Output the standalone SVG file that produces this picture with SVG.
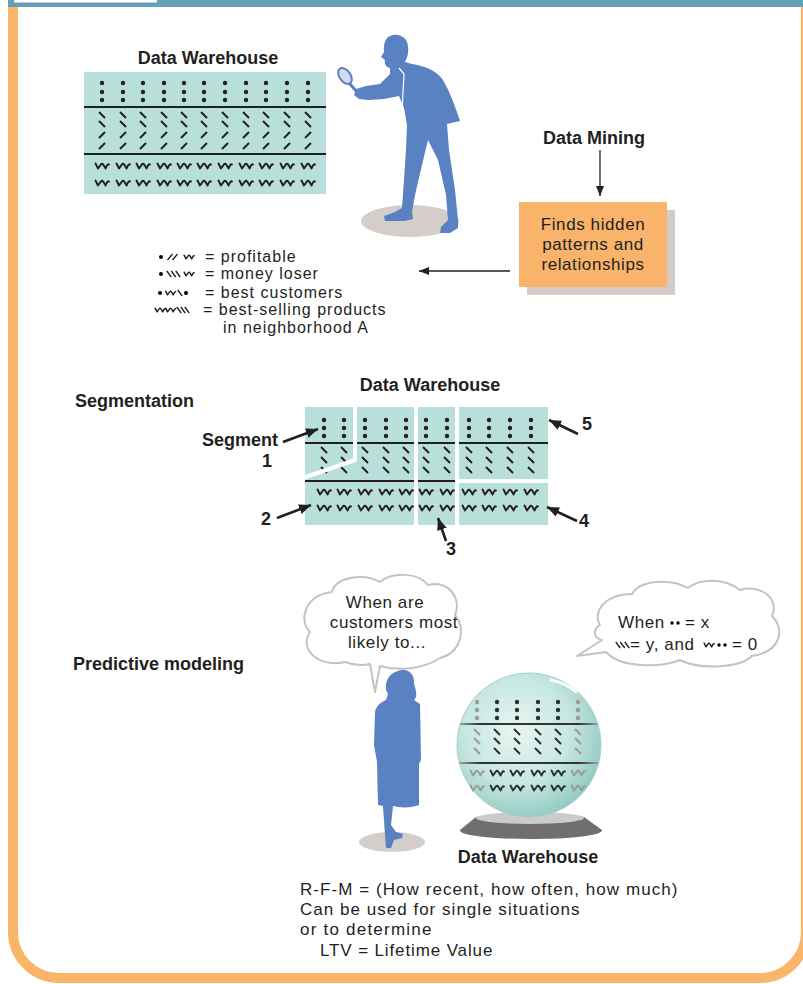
<svg xmlns="http://www.w3.org/2000/svg" width="803" height="984" viewBox="0 0 803 984">
<defs>
<style>
.t{font-family:"Liberation Sans",Arial,Helvetica,sans-serif;font-size:17px;fill:#231f20;letter-spacing:0.6px}
.lg{font-family:"Liberation Sans",Arial,Helvetica,sans-serif;font-size:16px;fill:#231f20;letter-spacing:1px}
.b{font-family:"Liberation Sans",Arial,Helvetica,sans-serif;font-size:18px;font-weight:bold;fill:#231f20}
.panel{fill:#b8dfd9}
.rule{stroke:#231f20;stroke-width:2.2}
.gap{stroke:#fff;stroke-width:4;fill:none}
.fig{fill:#5a81c1}
.shadow{fill:#d5cdc9}
.bubble{fill:#fff;stroke:#c9c1bb;stroke-width:2;stroke-linejoin:round}
.conn{stroke:#231f20;fill:none}
</style>
<!-- small record glyphs used inside the warehouse tables -->
<path id="sq" d="M-6.5,-2.5 L-4,2.5 L-1.2,-1.4 Q0,-3.2 1.2,-1.4 L3.6,2.5 Q5.6,-2.6 7,-1.6" fill="none" stroke="currentColor" stroke-width="1.9" stroke-linejoin="round" stroke-linecap="round"/>
<path id="bs" d="M-3,-3 L3,3" stroke="currentColor" stroke-width="2"/>
<path id="fs" d="M-3,3 L3,-3" stroke="currentColor" stroke-width="2"/>
<circle id="dt" r="2.2" fill="currentColor"/>
<path id="tbs" d="M-2.2,-3 L2.2,3" stroke="currentColor" stroke-width="1.3"/>
<path id="tfs" d="M-2.5,3 L2.5,-3" stroke="currentColor" stroke-width="1.3"/>

<g id="colTop">
<use href="#dt" y="83"/><use href="#dt" y="92"/><use href="#dt" y="100"/>
<use href="#bs" y="115"/><use href="#bs" y="124"/><use href="#fs" y="135"/><use href="#fs" y="146"/>
<use href="#sq" y="166"/><use href="#sq" y="183"/>
</g>
<g id="colSeg">
<use href="#dt" y="420"/><use href="#dt" y="428"/><use href="#dt" y="436"/>
<use href="#bs" y="450"/><use href="#bs" y="460"/><use href="#bs" y="470"/>
<use href="#sq" y="492"/><use href="#sq" y="508"/>
</g>
<g id="colBall">
<use href="#dt" y="702"/><use href="#dt" y="710"/><use href="#dt" y="718"/>
<use href="#bs" y="732"/><use href="#bs" y="741"/><use href="#bs" y="751"/>
<use href="#sq" y="773"/><use href="#sq" y="788"/>
</g>

<radialGradient id="ballFill" cx="0.42" cy="0.4" r="0.62">
<stop offset="0" stop-color="#e8f5f2"/>
<stop offset="0.6" stop-color="#c6e7e1"/>
<stop offset="1" stop-color="#94cbc2"/>
</radialGradient>
<linearGradient id="ballLine" gradientUnits="userSpaceOnUse" x1="458" y1="0" x2="600" y2="0">
<stop offset="0" stop-color="#aaa"/>
<stop offset="0.15" stop-color="#333"/>
<stop offset="0.85" stop-color="#333"/>
<stop offset="1" stop-color="#aaa"/>
</linearGradient>
<clipPath id="ballClip"><circle cx="529" cy="745" r="72"/></clipPath>

<marker id="ah" markerUnits="userSpaceOnUse" markerWidth="12" markerHeight="10" refX="10" refY="4" orient="auto">
<path d="M0,0 L10,4 L0,8 Z" fill="#231f20"/>
</marker>
<marker id="ahb" markerUnits="userSpaceOnUse" markerWidth="14" markerHeight="12" refX="12" refY="5" orient="auto">
<path d="M0,0 L12,5 L0,10 Z" fill="#231f20"/>
</marker>
</defs>

<rect width="803" height="984" fill="#fff"/>

<!-- page frame -->
<g id="frame">
<rect x="13" y="-60" width="793" height="1038" rx="46" fill="none" stroke="#fbb56b" stroke-width="10"/>
<rect x="8" y="0" width="795" height="7" fill="#659eb7"/>
<rect x="14" y="0" width="143" height="2.5" fill="#fff"/>
</g>

<!-- data warehouse table (top) -->
<g id="warehouse-top">
<text class="b" x="208" y="64" text-anchor="middle">Data Warehouse</text>
<rect class="panel" x="84" y="72" width="242" height="122"/>
<line class="rule" x1="84" y1="107" x2="326" y2="107"/>
<line class="rule" x1="84" y1="154" x2="326" y2="154"/>
<g color="#231f20">
<use href="#colTop" x="102"/><use href="#colTop" x="123"/><use href="#colTop" x="143"/>
<use href="#colTop" x="164"/><use href="#colTop" x="184"/><use href="#colTop" x="204"/>
<use href="#colTop" x="225"/><use href="#colTop" x="246"/><use href="#colTop" x="266"/>
<use href="#colTop" x="287"/><use href="#colTop" x="308"/>
</g>
</g>

<!-- analyst with magnifying glass -->
<g id="analyst">
<ellipse class="shadow" cx="410" cy="221" rx="49" ry="16"/>
<path class="fig" d="M393,35 C401,34 408,39 408,47 C409,53 407,58 405,62 L412,64 C424,66 436,70 443,80 C450,92 455,106 460,121 L447,124 L449,150 L455,190 L458,220 L458,228 L450,233 L440,233 L441,227 L448,220 L446,195 L438,160 L428,140 L422,165 L415,195 L412,212 L413,219 L405,221 L385,221 L384,216 L395,212 L402,208 L404,180 L406,150 L407,125 L404,108 L399,96 L384,99 L368,100 L359,99 L354,95 L356,89 L366,86 L380,84 L390,74 L390,68 C386,67 384,64 385,60 L381,57 L384,52 C383,43 386,36 393,35 Z"/>
<path d="M399,68 L404,74 L402,112" fill="none" stroke="#fff" stroke-width="1.2"/>
<line x1="350" y1="84" x2="357" y2="92" stroke="#5a81c1" stroke-width="3" stroke-linecap="round"/>
<ellipse cx="345" cy="76" rx="5.5" ry="9" transform="rotate(-35 345 76)" fill="#d3dbf2" stroke="#5a81c1" stroke-width="2"/>
</g>

<!-- data mining label and result box -->
<g id="data-mining">
<text class="b" x="594" y="144" text-anchor="middle">Data Mining</text>
</g>
<g id="finds-box">
<rect x="527" y="210" width="148" height="85" fill="#d4ccc8"/>
<rect x="519" y="202" width="148" height="85" fill="#f9b36b"/>
<text class="t" x="593" y="230" text-anchor="middle">Finds hidden</text>
<text class="t" x="593" y="250" text-anchor="middle">patterns and</text>
<text class="t" x="593" y="270" text-anchor="middle">relationships</text>
</g>

<!-- legend of record patterns -->
<g id="legend" color="#231f20">
<circle cx="161" cy="257" r="2"/>
<use href="#tfs" x="170" y="257"/><use href="#tfs" x="175" y="257"/>
<use href="#sq" transform="translate(189 257) scale(0.75)"/>
<text class="lg" x="205" y="262">= profitable</text>

<circle cx="161" cy="274" r="2"/>
<use href="#tbs" x="169" y="274"/><use href="#tbs" x="173.5" y="274"/><use href="#tbs" x="178" y="274"/>
<use href="#sq" transform="translate(189 274) scale(0.75)"/>
<text class="lg" x="205" y="279">= money loser</text>

<circle cx="160" cy="293" r="2"/>
<use href="#sq" transform="translate(170.5 293) scale(0.75)"/>
<use href="#tbs" x="180" y="293"/>
<circle cx="186" cy="293" r="2"/>
<text class="lg" x="205" y="298">= best customers</text>

<use href="#sq" transform="translate(160 310) scale(0.75)"/>
<use href="#sq" transform="translate(170.5 310) scale(0.75)"/>
<use href="#tbs" x="179" y="310"/><use href="#tbs" x="183" y="310"/><use href="#tbs" x="187" y="310"/>
<text class="lg" x="203" y="315">= best-selling products</text>
<text class="lg" x="223" y="333">in neighborhood A</text>
</g>

<!-- segmentation -->
<g id="segmentation">
<text class="b" x="75" y="407">Segmentation</text>
<text class="b" x="430" y="391" text-anchor="middle">Data Warehouse</text>
<rect class="panel" x="305" y="407" width="243" height="118"/>
<line class="rule" x1="305" y1="443" x2="548" y2="443"/>
<line class="rule" x1="305" y1="481" x2="455" y2="481"/>
<g color="#231f20">
<use href="#colSeg" x="324"/><use href="#colSeg" x="344"/><use href="#colSeg" x="365"/>
<use href="#colSeg" x="386"/><use href="#colSeg" x="406"/><use href="#colSeg" x="426"/>
<use href="#colSeg" x="447"/><use href="#colSeg" x="469"/><use href="#colSeg" x="489"/>
<use href="#colSeg" x="510"/><use href="#colSeg" x="531"/>
</g>
<polyline class="gap" points="355,405 355,460 303,478"/>
<line class="gap" x1="416" y1="405" x2="416" y2="527"/>
<line class="gap" x1="457" y1="405" x2="457" y2="527"/>
<line class="gap" x1="457" y1="481" x2="550" y2="481"/>
<text class="b" x="202" y="446">Segment</text>
<text class="b" x="267" y="467" text-anchor="middle">1</text>
<text class="b" x="266" y="525" text-anchor="middle">2</text>
<text class="b" x="451" y="555" text-anchor="middle">3</text>
<text class="b" x="584" y="527" text-anchor="middle">4</text>
<text class="b" x="587" y="430" text-anchor="middle">5</text>
</g>

<!-- predictive modeling -->
<g id="predictive">
<text class="b" x="73" y="670">Predictive modeling</text>
</g>

<g id="question-bubble">
<path class="bubble" d="M370,664 L375,692 L380,666 C400,672 425,668 440,658 C462,652 466,628 455,615 C462,598 448,580 428,585 C418,572 392,572 380,582 C362,572 335,578 332,592 C305,595 298,620 310,632 C298,650 320,668 345,662 C353,665 362,666 370,664 Z"/>
<text class="t" x="385" y="608" text-anchor="middle">When are</text>
<text class="t" x="394" y="628" text-anchor="middle">customers most</text>
<text class="t" x="387" y="648" text-anchor="middle">likely to...</text>
</g>

<g id="answer-bubble" color="#231f20">
<path class="bubble" d="M602,640 L577,656 L606,652 C620,668 660,668 680,660 C700,670 740,668 752,656 C780,652 786,630 772,616 C780,598 760,584 740,590 C725,578 700,578 688,588 C670,578 640,580 632,594 C605,594 592,612 600,625 C592,630 594,638 602,640 Z"/>
<text class="t" x="618" y="628">When</text>
<circle cx="672" cy="623" r="1.7"/><circle cx="678" cy="623" r="1.7"/>
<text class="t" x="685" y="628">= x</text>
<use href="#tbs" x="618" y="645"/><use href="#tbs" x="622.5" y="645"/><use href="#tbs" x="627" y="645"/>
<text class="t" x="630" y="650">= y, and</text>
<use href="#sq" transform="translate(709 645) scale(0.75)"/>
<circle cx="719" cy="645" r="1.7"/><circle cx="725" cy="645" r="1.7"/>
<text class="t" x="732" y="650">= 0</text>
</g>

<g id="customer">
<ellipse class="shadow" cx="392" cy="842" rx="33" ry="10"/>
<path class="fig" d="M402,670 C410,669 415,676 414,684 C416,690 418,696 414,700 L420,704 L421,760 L419,764 L419,805 C412,808 400,808 393,806 L391,825 L396,832 L403,834 L402,838 L394,840 L391,848 L386,848 L385,835 L383,806 L378,805 L377,762 L374,745 L375,712 C376,706 381,702 386,700 L388,694 L386,690 C385,682 388,672 402,670 Z"/>
</g>

<!-- crystal ball holding the warehouse -->
<g id="crystal-ball">
<path d="M476,817 C500,812 560,812 584,817 L602,830 C604,842 458,842 460,830 Z" fill="#6f6f6f"/>
<ellipse cx="530" cy="818" rx="54" ry="6" fill="#cbcbcb"/>
<circle cx="529" cy="745" r="72" fill="url(#ballFill)" stroke="#a6d3cb" stroke-width="1"/>
<g clip-path="url(#ballClip)">
<line x1="456" y1="724" x2="602" y2="724" stroke="url(#ballLine)" stroke-width="2.2"/>
<line x1="456" y1="763" x2="602" y2="763" stroke="url(#ballLine)" stroke-width="2.2"/>
</g>
<use href="#colBall" x="477" color="#9a9a9a"/>
<use href="#colBall" x="497" color="#2e2e2e"/>
<use href="#colBall" x="517" color="#2e2e2e"/>
<use href="#colBall" x="538" color="#2e2e2e"/>
<use href="#colBall" x="558" color="#2e2e2e"/>
<use href="#colBall" x="578" color="#9a9a9a"/>
<path d="M551,680 Q566,683 576,692" fill="none" stroke="#fff" stroke-width="3" stroke-linecap="round" opacity="0.9"/>
<text class="b" x="528" y="863" text-anchor="middle">Data Warehouse</text>
</g>

<g id="notes">
<text class="t" x="300" y="895" textLength="378">R-F-M = (How recent, how often, how much)</text>
<text class="t" x="300" y="915" textLength="280">Can be used for single situations</text>
<text class="t" x="300" y="935" textLength="132">or to determine</text>
<text class="t" x="320" y="956" textLength="173">LTV = Lifetime Value</text>
</g>

<!-- connectors -->
<g id="connectors">
<line class="conn" x1="600" y1="150" x2="600" y2="196" stroke-width="1.3" marker-end="url(#ah)"/>
<line class="conn" x1="510" y1="271" x2="419" y2="271" stroke-width="1.3" marker-end="url(#ah)"/>
<line class="conn" x1="283" y1="442" x2="318" y2="429" stroke-width="2.6" marker-end="url(#ahb)"/>
<line class="conn" x1="277" y1="518" x2="311" y2="505" stroke-width="2.6" marker-end="url(#ahb)"/>
<line class="conn" x1="446" y1="541" x2="438" y2="518" stroke-width="2.6" marker-end="url(#ahb)"/>
<line class="conn" x1="577" y1="521" x2="547" y2="507" stroke-width="2.6" marker-end="url(#ahb)"/>
<line class="conn" x1="578" y1="434" x2="549" y2="420" stroke-width="2.6" marker-end="url(#ahb)"/>
</g>
</svg>
